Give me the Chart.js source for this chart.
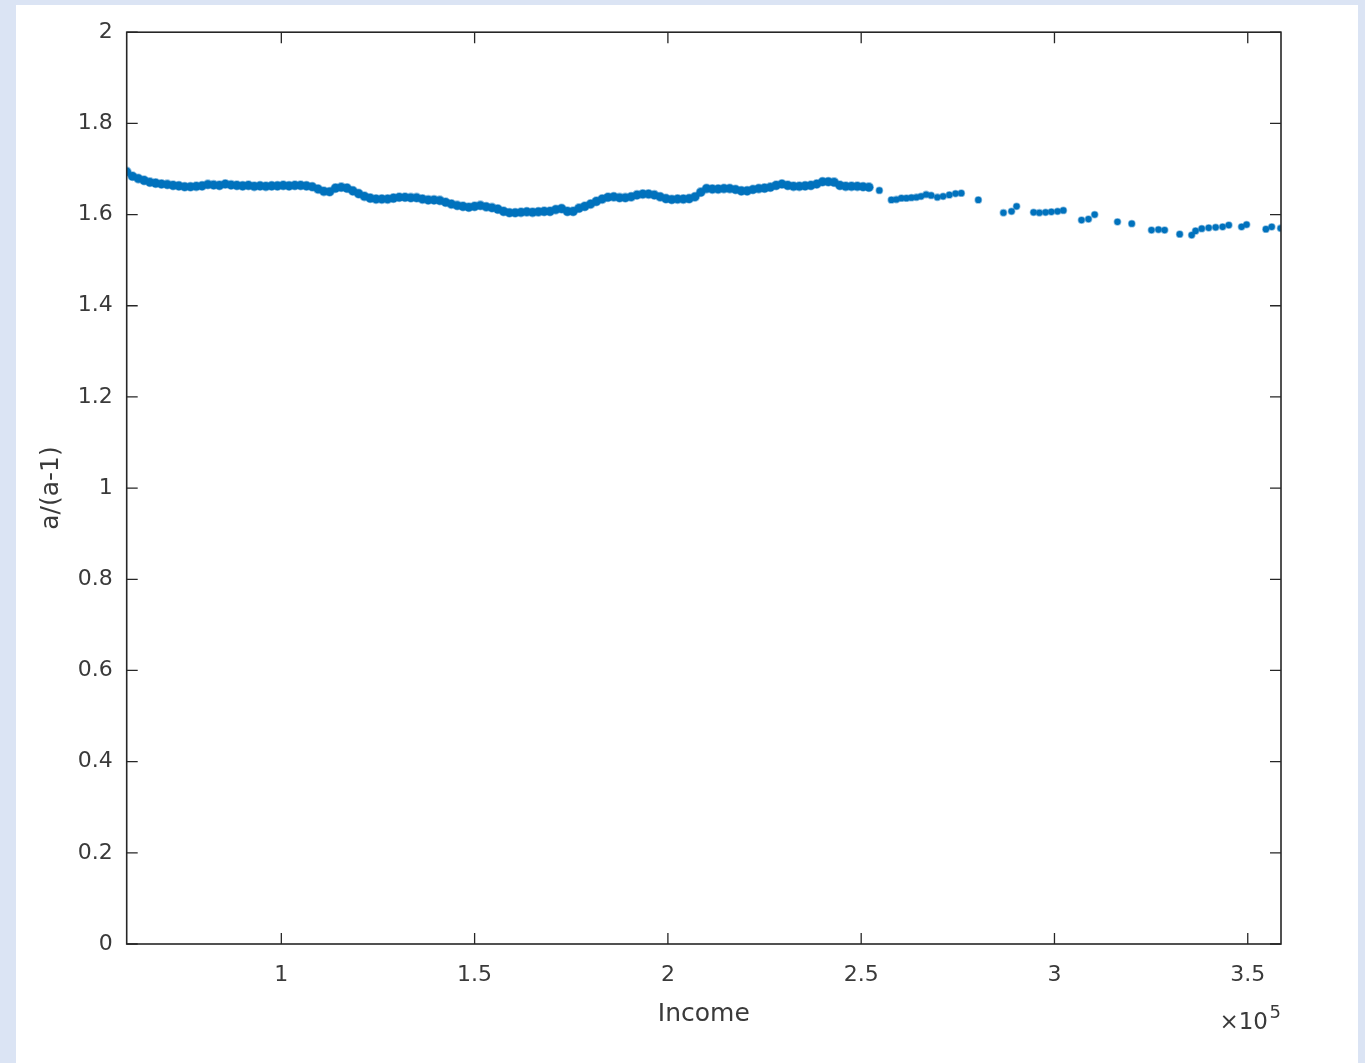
<!DOCTYPE html>
<html>
<head>
<meta charset="utf-8">
<script src="https://cdn.jsdelivr.net/npm/chart.js@4/dist/chart.umd.min.js"></script>
<style>
  html, body { margin: 0; padding: 0; background: #dbe4f4; width: 1365px; height: 1063px; overflow: hidden; }
  #panel { position: absolute; left: 16px; top: 5px; width: 1342px; height: 1058px; background: #fff; }
  canvas { display: block; }
</style>
</head>
<body>
<div id="panel"><canvas id="ratioChart" width="1342" height="1058"></canvas></div>
<script>
const income = [
    60000, 61500, 63000, 64500, 66000, 67500, 69000, 70500, 72000, 73500,
    75000, 76500, 78000, 79500, 81000, 82500, 84000, 85500, 87000, 88500,
    90000, 91500, 93000, 94500, 96000, 97500, 99000, 100500, 102000, 103500,
    105000, 106500, 108000, 109500, 111000, 112500, 114000, 115500, 117000, 118500,
    120000, 121500, 123000, 124500, 126000, 127500, 129000, 130500, 132000, 133500,
    135000, 136500, 138000, 139500, 141000, 142500, 144000, 145500, 147000, 148500,
    150000, 151500, 153000, 154500, 156000, 157500, 159000, 160500, 162000, 163500,
    165000, 166500, 168000, 169500, 171000, 172500, 174000, 175500, 177000, 178500,
    180000, 181500, 183000, 184500, 186000, 187500, 189000, 190500, 192000, 193500,
    195000, 196500, 198000, 199500, 201000, 202500, 204000, 205500, 207000, 208500,
    210000, 211500, 213000, 214500, 216000, 217500, 219000, 220500, 222000, 223500,
    225000, 226500, 228000, 229500, 231000, 232500, 234000, 235500, 237000, 238500,
    240000, 241500, 243000, 244500, 246000, 247500, 249000, 250500, 252000, 254700,
    257800, 259100, 260400, 261700, 263000, 264300, 265500, 266800, 268100, 269700,
    271200, 272800, 274400, 275900, 280300, 286800, 288900, 290200, 294600, 296100,
    297700, 299200, 300800, 302300, 307000, 308800, 310400, 316300, 320000, 325100,
    326900, 328500, 332400, 335500, 336500, 338100, 339900, 341700, 343500, 345100,
    348400, 349700, 354700, 356200, 358500
];

const ratio = [
    1.694, 1.684, 1.679, 1.675, 1.671, 1.669, 1.667, 1.666, 1.664, 1.663,
    1.661, 1.661, 1.662, 1.663, 1.666, 1.665, 1.664, 1.667, 1.665, 1.664,
    1.663, 1.664, 1.662, 1.663, 1.662, 1.663, 1.663, 1.664, 1.663, 1.664,
    1.664, 1.663, 1.661, 1.656, 1.651, 1.650, 1.658, 1.660, 1.658, 1.652,
    1.646, 1.640, 1.636, 1.634, 1.634, 1.634, 1.636, 1.638, 1.638, 1.637,
    1.637, 1.634, 1.632, 1.632, 1.631, 1.627, 1.623, 1.620, 1.618, 1.616,
    1.618, 1.620, 1.617, 1.615, 1.612, 1.607, 1.604, 1.604, 1.605, 1.606,
    1.605, 1.606, 1.607, 1.607, 1.611, 1.613, 1.607, 1.607, 1.614, 1.618,
    1.623, 1.629, 1.634, 1.638, 1.639, 1.637, 1.637, 1.639, 1.643, 1.645,
    1.645, 1.643, 1.639, 1.635, 1.633, 1.634, 1.634, 1.635, 1.639, 1.649,
    1.657, 1.656, 1.656, 1.657, 1.657, 1.655, 1.652, 1.652, 1.655, 1.657,
    1.658, 1.660, 1.664, 1.667, 1.664, 1.662, 1.662, 1.663, 1.664, 1.667,
    1.672, 1.672, 1.671, 1.664, 1.662, 1.662, 1.662, 1.661, 1.660, 1.653,
    1.632, 1.633, 1.636, 1.636, 1.637, 1.638, 1.640, 1.644, 1.642, 1.638,
    1.640, 1.643, 1.646, 1.647, 1.632, 1.604, 1.607, 1.618, 1.605, 1.604,
    1.605, 1.606, 1.607, 1.609, 1.588, 1.590, 1.600, 1.584, 1.580, 1.566,
    1.567, 1.566, 1.557, 1.555, 1.564, 1.569, 1.571, 1.572, 1.573, 1.577,
    1.573, 1.578, 1.568, 1.573, 1.570
];

const xTickValues = [100000, 150000, 200000, 250000, 300000, 350000];
const yTickValues = [0, 0.2, 0.4, 0.6, 0.8, 1, 1.2, 1.4, 1.6, 1.8, 2];

const axisColor = '#262626';
const textColor = '#3a3a3a';
const fontName = 'DejaVu Sans';
const tickFont = { family: fontName, size: 22 };

// MATLAB style box with inward ticks on all four sides, plus the x10^5 exponent
const boxPlugin = {
    id: 'matlabBox',
    afterDraw(chart) {
        const { ctx, chartArea: a, scales } = chart;
        const len = 11;
        ctx.save();
        ctx.strokeStyle = axisColor;
        ctx.lineWidth = 1.6;
        ctx.strokeRect(a.left, a.top, a.right - a.left, a.bottom - a.top);
        ctx.lineWidth = 1.3;
        ctx.beginPath();
        xTickValues.forEach(v => {
            const x = scales.x.getPixelForValue(v);
            ctx.moveTo(x, a.bottom); ctx.lineTo(x, a.bottom - len);
            ctx.moveTo(x, a.top); ctx.lineTo(x, a.top + len);
        });
        yTickValues.forEach(v => {
            const y = scales.y.getPixelForValue(v);
            ctx.moveTo(a.left, y); ctx.lineTo(a.left + len, y);
            ctx.moveTo(a.right, y); ctx.lineTo(a.right - len, y);
        });
        ctx.stroke();

        ctx.fillStyle = textColor;
        ctx.textAlign = 'right';
        ctx.textBaseline = 'alphabetic';
        ctx.font = '23px "' + fontName + '"';
        ctx.fillText('\u00d710', a.right - 13, 1024);
        ctx.font = '18px "' + fontName + '"';
        ctx.fillText('5', a.right, 1013);
        ctx.restore();
    }
};

const ctx = document.getElementById('ratioChart').getContext('2d');

new Chart(ctx, {
    type: 'scatter',
    data: {
        datasets: [{
            data: income.map((x, i) => ({ x: x, y: ratio[i] })),
            backgroundColor: '#0072BD',
            borderColor: 'rgba(0, 114, 189, 0.45)',
            borderWidth: 1.6,
            // the low-income part is a dense cloud of overlapping markers
            pointRadius: c => (c.raw && c.raw.x < 253000) ? 4.3 : 3.1,
            pointHoverRadius: 3.6
        }]
    },
    options: {
        responsive: false,
        animation: false,
        devicePixelRatio: 1,
        layout: { padding: { left: 0, top: 27, right: 77, bottom: 0 } },
        plugins: {
            legend: { display: false },
            tooltip: { enabled: false }
        },
        scales: {
            x: {
                type: 'linear',
                min: 60000,
                max: 358600,
                afterFit: scale => { scale.height = 119; },
                afterBuildTicks: scale => { scale.ticks = xTickValues.map(v => ({ value: v })); },
                grid: { display: false, drawTicks: false },
                border: { display: false },
                ticks: {
                    font: tickFont,
                    color: textColor,
                    padding: 18,
                    maxRotation: 0,
                    callback: v => String(v / 100000)
                },
                title: {
                    display: true,
                    text: 'Income',
                    color: textColor,
                    font: { family: fontName, size: 25 },
                    padding: { top: 0, bottom: 34 }
                }
            },
            y: {
                type: 'linear',
                min: 0,
                max: 2,
                afterFit: scale => { scale.width = 110.7; },
                afterBuildTicks: scale => { scale.ticks = yTickValues.map(v => ({ value: v })); },
                grid: { display: false, drawTicks: false },
                border: { display: false },
                ticks: {
                    font: tickFont,
                    color: textColor,
                    padding: 14,
                    callback: v => String(+v.toFixed(1))
                },
                title: {
                    display: true,
                    text: 'a/(a-1)',
                    color: textColor,
                    font: { family: fontName, size: 25 },
                    padding: { top: 20, bottom: 0 }
                }
            }
        }
    },
    plugins: [boxPlugin]
});
</script>
</body>
</html>
